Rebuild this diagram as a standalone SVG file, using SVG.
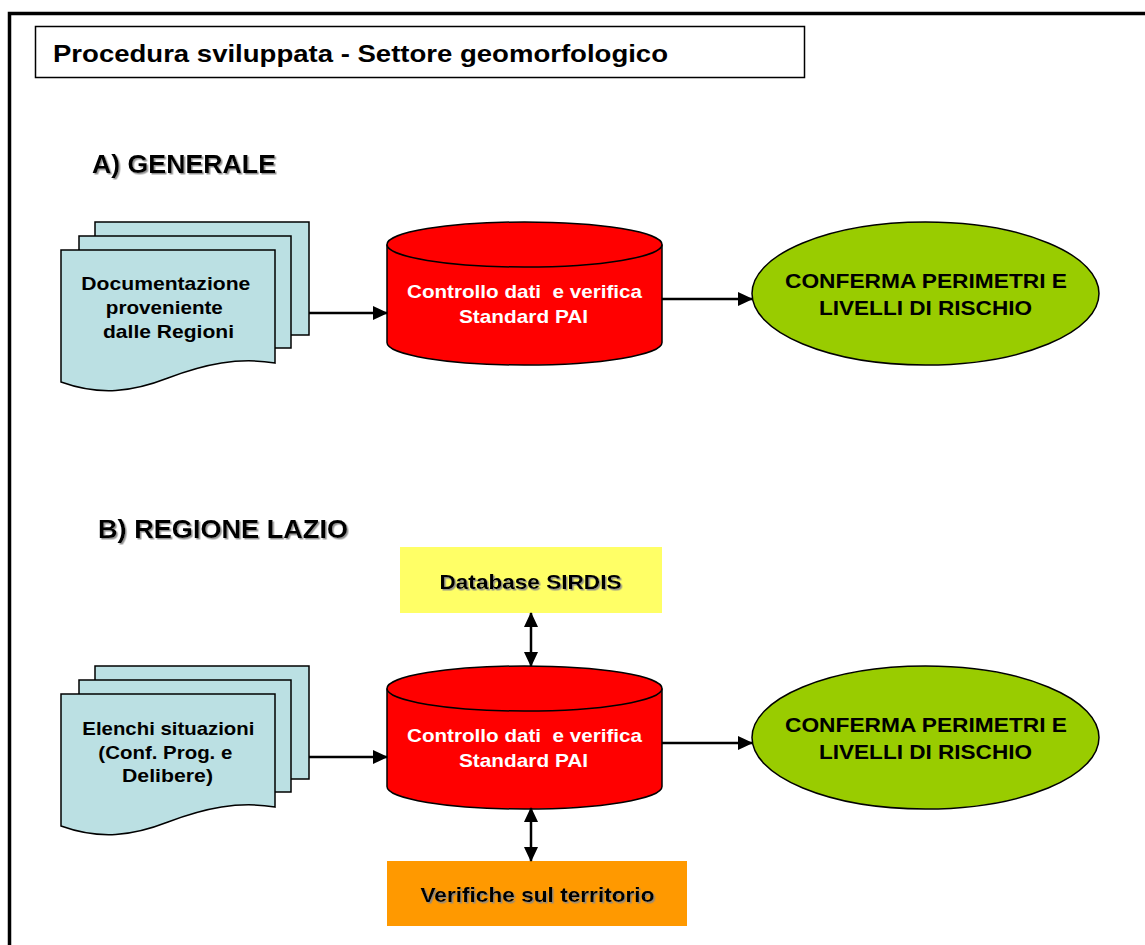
<svg xmlns="http://www.w3.org/2000/svg" width="1145" height="945" viewBox="0 0 1145 945">
<style>
.t{font-family:"Liberation Sans",Arial,sans-serif;font-weight:bold;}
.doc{fill:#BBE0E3;stroke:#000;stroke-width:1.5;}
.cyl{fill:#FF0000;stroke:#000;stroke-width:1.5;}
.ell{fill:#99CC00;stroke:#000;stroke-width:1.5;}
.conn{stroke:#000;stroke-width:2.5;fill:none;}
.w{fill:#fff;font-size:19px;white-space:pre;}
.k{fill:#000;}
</style>
<defs>
<marker id="ah" markerUnits="userSpaceOnUse" markerWidth="15" markerHeight="15" viewBox="0 0 15 15" refX="14" refY="7.5" orient="auto-start-reverse">
<path d="M0,0.5 L15,7.5 L0,14.5 Z" fill="#000"/>
</marker>
<filter id="sh" x="-5%" y="-20%" width="110%" height="150%">
<feDropShadow dx="1.5" dy="1.5" stdDeviation="0.6" flood-color="#888" flood-opacity="0.9"/>
</filter>
<g id="docshape">
<path class="doc" d="M95,335 V222 H309 V335 Z"/>
<path class="doc" d="M79,348 V236 H291 V348 Z"/>
<path class="doc" d="M61,382 V250 H275 V363 C238,357 205,364 168,378 C132,392 100,396 61,382 Z"/>
</g>
<g id="cylshape">
<path class="cyl" d="M387,244.5 V342.5 A137.5,22.5 0 0 0 662,342.5 V244.5"/>
<ellipse class="cyl" cx="524.5" cy="244.5" rx="137.5" ry="22.5"/>
</g>
</defs>

<rect x="9.5" y="13.5" width="1150" height="950" fill="#fff" stroke="#000" stroke-width="3.5"/>

<g id="title">
<rect x="35.5" y="26.5" width="769" height="51" fill="#fff" stroke="#000" stroke-width="1.5"/>
<text class="t k" x="53" y="62" font-size="24.5" textLength="615" lengthAdjust="spacingAndGlyphs">Procedura sviluppata - Settore geomorfologico</text>
</g>

<g id="headA" filter="url(#sh)">
<text class="t k" x="92" y="173" font-size="25.5" textLength="184" lengthAdjust="spacingAndGlyphs">A) GENERALE</text>
</g>
<g id="headB" filter="url(#sh)">
<text class="t k" x="98" y="538" font-size="25.5" textLength="250" lengthAdjust="spacingAndGlyphs">B) REGIONE LAZIO</text>
</g>

<g id="docA">
<use href="#docshape"/>
<text class="t k" font-size="19" text-anchor="middle">
<tspan x="168.5" y="290" textLength="169" lengthAdjust="spacingAndGlyphs">Documentazione</tspan>
<tspan x="167" y="314" textLength="117" lengthAdjust="spacingAndGlyphs">proveniente</tspan>
<tspan x="168.5" y="338" textLength="131" lengthAdjust="spacingAndGlyphs">dalle Regioni</tspan>
</text>
</g>

<g id="cylA">
<use href="#cylshape"/>
<text class="t w" text-anchor="middle"><tspan x="524.5" y="298" textLength="235" lengthAdjust="spacingAndGlyphs">Controllo dati  e verifica</tspan><tspan x="523.5" y="323" textLength="129" lengthAdjust="spacingAndGlyphs">Standard PAI</tspan></text>
</g>

<g id="ellA">
<ellipse class="ell" cx="925.5" cy="293.5" rx="173.5" ry="71.5"/>
<text class="t k" font-size="21" text-anchor="middle"><tspan x="926" y="288" textLength="282" lengthAdjust="spacingAndGlyphs">CONFERMA PERIMETRI E</tspan><tspan x="925.5" y="315" textLength="213" lengthAdjust="spacingAndGlyphs">LIVELLI DI RISCHIO</tspan></text>
</g>

<g id="docB">
<use href="#docshape" transform="translate(0,444)"/>
<text class="t k" font-size="19" text-anchor="middle">
<tspan x="171" y="735" textLength="172" lengthAdjust="spacingAndGlyphs">Elenchi situazioni</tspan>
<tspan x="168" y="759" textLength="134" lengthAdjust="spacingAndGlyphs">(Conf. Prog. e</tspan>
<tspan x="167.5" y="782" textLength="91" lengthAdjust="spacingAndGlyphs">Delibere)</tspan>
</text>
</g>

<g id="cylB">
<use href="#cylshape" transform="translate(0,444)"/>
<text class="t w" text-anchor="middle"><tspan x="524.5" y="742" textLength="235" lengthAdjust="spacingAndGlyphs">Controllo dati  e verifica</tspan><tspan x="523.5" y="767" textLength="129" lengthAdjust="spacingAndGlyphs">Standard PAI</tspan></text>
</g>

<g id="ellB">
<ellipse class="ell" cx="925.5" cy="737.5" rx="173.5" ry="71.5"/>
<text class="t k" font-size="21" text-anchor="middle"><tspan x="926" y="732" textLength="282" lengthAdjust="spacingAndGlyphs">CONFERMA PERIMETRI E</tspan><tspan x="925.5" y="759" textLength="213" lengthAdjust="spacingAndGlyphs">LIVELLI DI RISCHIO</tspan></text>
</g>

<g id="sirdis">
<rect x="400" y="547" width="262" height="66" fill="#FFFF66"/>
<text class="t k" x="530.5" y="589" font-size="20.5" text-anchor="middle" textLength="182" lengthAdjust="spacingAndGlyphs" filter="url(#sh)">Database SIRDIS</text>
</g>

<g id="verifiche">
<rect x="387" y="861" width="300" height="65" fill="#FF9900"/>
<text class="t k" x="537.5" y="902" font-size="20.5" text-anchor="middle" textLength="234" lengthAdjust="spacingAndGlyphs" filter="url(#sh)">Verifiche sul territorio</text>
</g>

<g id="connectors">
<line class="conn" x1="309" y1="313" x2="387" y2="313" marker-end="url(#ah)"/>
<line class="conn" x1="662" y1="299" x2="752" y2="299" marker-end="url(#ah)"/>
<line class="conn" x1="309" y1="757" x2="387" y2="757" marker-end="url(#ah)"/>
<line class="conn" x1="662" y1="743" x2="752" y2="743" marker-end="url(#ah)"/>
<line class="conn" x1="531" y1="613" x2="531" y2="666" marker-start="url(#ah)" marker-end="url(#ah)"/>
<line class="conn" x1="531" y1="808" x2="531" y2="861" marker-start="url(#ah)" marker-end="url(#ah)"/>
</g>
</svg>
